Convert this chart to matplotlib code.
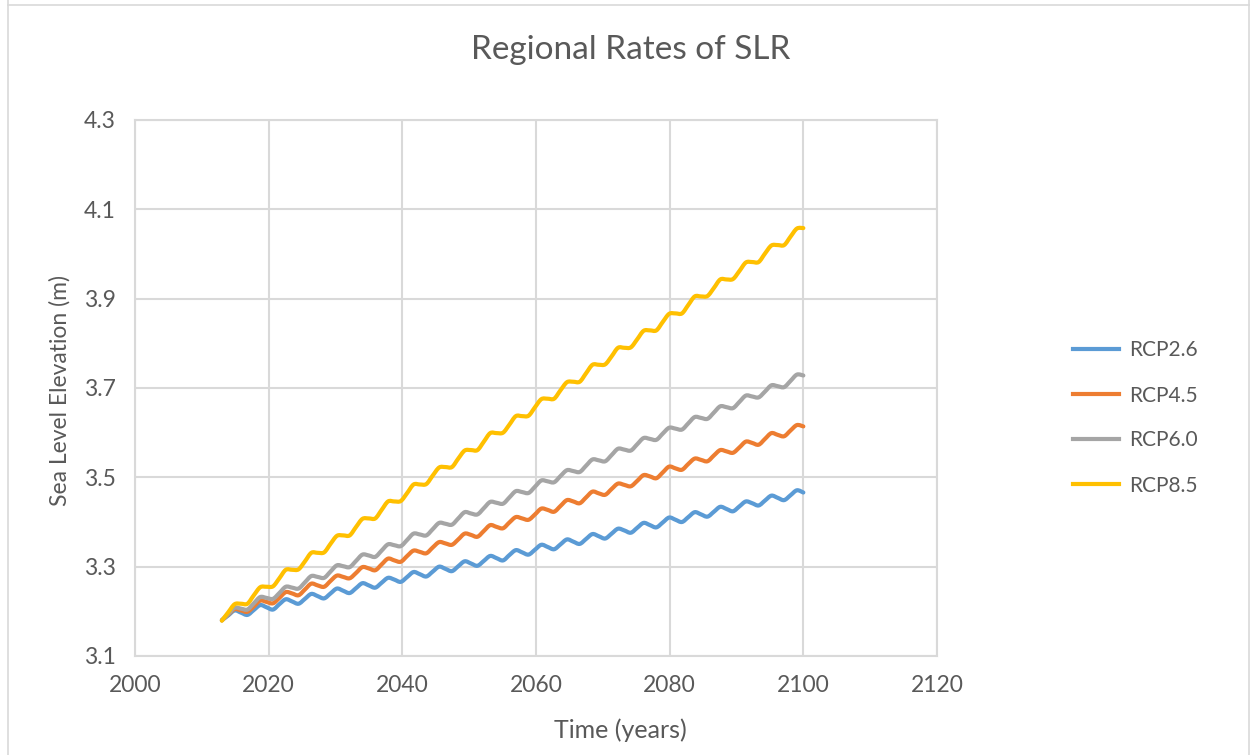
import matplotlib
matplotlib.use("Agg")
import matplotlib.pyplot as plt
import numpy as np
from matplotlib.path import Path
from matplotlib.patches import PathPatch
from matplotlib.lines import Line2D

plt.rcParams['font.family'] = ['Lato', 'DejaVu Sans']

years = [
    2013.00, 2013.96, 2014.91, 2015.87, 2016.82, 2017.78, 2018.74, 2019.69,
    2020.65, 2021.60, 2022.56, 2023.52, 2024.47, 2025.43, 2026.38, 2027.34,
    2028.30, 2029.25, 2030.21, 2031.16, 2032.12, 2033.08, 2034.03, 2034.99,
    2035.95, 2036.90, 2037.86, 2038.81, 2039.77, 2040.73, 2041.68, 2042.64,
    2043.59, 2044.55, 2045.51, 2046.46, 2047.42, 2048.37, 2049.33, 2050.29,
    2051.24, 2052.20, 2053.15, 2054.11, 2055.07, 2056.02, 2056.98, 2057.93,
    2058.89, 2059.85, 2060.80, 2061.76, 2062.71, 2063.67, 2064.63, 2065.58,
    2066.54, 2067.49, 2068.45, 2069.41, 2070.36, 2071.32, 2072.27, 2073.23,
    2074.19, 2075.14, 2076.10, 2077.05, 2078.01, 2078.97, 2079.92, 2080.88,
    2081.84, 2082.79, 2083.75, 2084.70, 2085.66, 2086.62, 2087.57, 2088.53,
    2089.48, 2090.44, 2091.40, 2092.35, 2093.31, 2094.26, 2095.22, 2096.18,
    2097.13, 2098.09, 2099.04, 2100.00,
]

rcp26 = [
    3.180, 3.191, 3.202, 3.197, 3.192, 3.203, 3.214, 3.209,
    3.204, 3.216, 3.227, 3.222, 3.217, 3.228, 3.239, 3.234,
    3.229, 3.240, 3.251, 3.246, 3.241, 3.252, 3.263, 3.258,
    3.253, 3.264, 3.275, 3.271, 3.266, 3.277, 3.288, 3.283,
    3.278, 3.289, 3.300, 3.295, 3.290, 3.301, 3.312, 3.307,
    3.302, 3.313, 3.324, 3.319, 3.314, 3.326, 3.337, 3.332,
    3.327, 3.338, 3.349, 3.344, 3.339, 3.350, 3.361, 3.356,
    3.351, 3.362, 3.373, 3.368, 3.363, 3.374, 3.385, 3.381,
    3.376, 3.387, 3.398, 3.393, 3.388, 3.399, 3.410, 3.405,
    3.400, 3.411, 3.422, 3.417, 3.412, 3.423, 3.434, 3.429,
    3.424, 3.435, 3.446, 3.442, 3.437, 3.448, 3.459, 3.454,
    3.449, 3.460, 3.471, 3.466,
]

rcp45 = [
    3.180, 3.193, 3.205, 3.202, 3.199, 3.211, 3.224, 3.221,
    3.218, 3.230, 3.243, 3.240, 3.236, 3.249, 3.262, 3.258,
    3.255, 3.268, 3.280, 3.277, 3.274, 3.286, 3.299, 3.296,
    3.292, 3.305, 3.318, 3.314, 3.311, 3.324, 3.336, 3.333,
    3.330, 3.343, 3.355, 3.352, 3.349, 3.361, 3.374, 3.371,
    3.367, 3.380, 3.393, 3.389, 3.386, 3.399, 3.411, 3.408,
    3.405, 3.417, 3.430, 3.427, 3.423, 3.436, 3.449, 3.446,
    3.442, 3.455, 3.468, 3.464, 3.461, 3.474, 3.486, 3.483,
    3.480, 3.492, 3.505, 3.502, 3.498, 3.511, 3.524, 3.520,
    3.517, 3.530, 3.542, 3.539, 3.536, 3.549, 3.561, 3.558,
    3.555, 3.567, 3.580, 3.577, 3.573, 3.586, 3.599, 3.595,
    3.592, 3.605, 3.617, 3.614,
]

rcp60 = [
    3.180, 3.194, 3.208, 3.206, 3.204, 3.218, 3.232, 3.230,
    3.228, 3.241, 3.255, 3.253, 3.251, 3.265, 3.279, 3.277,
    3.275, 3.289, 3.303, 3.301, 3.299, 3.313, 3.327, 3.325,
    3.322, 3.336, 3.350, 3.348, 3.346, 3.360, 3.374, 3.372,
    3.370, 3.384, 3.398, 3.396, 3.394, 3.408, 3.422, 3.419,
    3.417, 3.431, 3.445, 3.443, 3.441, 3.455, 3.469, 3.467,
    3.465, 3.479, 3.493, 3.491, 3.489, 3.503, 3.516, 3.514,
    3.512, 3.526, 3.540, 3.538, 3.536, 3.550, 3.564, 3.562,
    3.560, 3.574, 3.588, 3.586, 3.584, 3.598, 3.611, 3.609,
    3.607, 3.621, 3.635, 3.633, 3.631, 3.645, 3.659, 3.657,
    3.655, 3.669, 3.683, 3.681, 3.679, 3.692, 3.706, 3.704,
    3.702, 3.716, 3.730, 3.728,
]

rcp85 = [
    3.179, 3.198, 3.216, 3.217, 3.217, 3.236, 3.254, 3.255,
    3.256, 3.274, 3.293, 3.293, 3.294, 3.312, 3.331, 3.331,
    3.332, 3.351, 3.369, 3.370, 3.370, 3.389, 3.407, 3.408,
    3.408, 3.427, 3.446, 3.446, 3.447, 3.465, 3.484, 3.484,
    3.485, 3.504, 3.522, 3.523, 3.523, 3.542, 3.560, 3.561,
    3.561, 3.580, 3.599, 3.599, 3.600, 3.618, 3.637, 3.637,
    3.638, 3.657, 3.675, 3.676, 3.676, 3.695, 3.713, 3.714,
    3.714, 3.733, 3.752, 3.752, 3.753, 3.771, 3.790, 3.790,
    3.791, 3.809, 3.828, 3.829, 3.829, 3.848, 3.866, 3.867,
    3.867, 3.886, 3.905, 3.905, 3.906, 3.924, 3.943, 3.943,
    3.944, 3.962, 3.981, 3.982, 3.982, 4.001, 4.019, 4.020,
    4.020, 4.039, 4.057, 4.058,
]

series_names = ['RCP2.6', 'RCP4.5', 'RCP6.0', 'RCP8.5']
series_colors = ['#5B9BD5', '#ED7D31', '#A5A5A5', '#FFC000']
x_ticks = [2000, 2020, 2040, 2060, 2080, 2100, 2120]
y_ticks = [3.1, 3.3, 3.5, 3.7, 3.9, 4.1, 4.3]

TEXT = '#595959'
GRID = '#D9D9D9'


def smooth_path(x, y):
    # Catmull-Rom style smoothed line, like a spreadsheet "smoothed line"
    pts = np.column_stack([x, y])
    n = len(pts)
    verts = [pts[0]]
    codes = [Path.MOVETO]
    for i in range(n - 1):
        p_prev = pts[i - 1] if i > 0 else pts[i]
        p_next = pts[i + 2] if i + 2 < n else pts[i + 1]
        c1 = pts[i] + (pts[i + 1] - p_prev) / 6.0
        c2 = pts[i + 1] - (p_next - pts[i]) / 6.0
        verts += [c1, c2, pts[i + 1]]
        codes += [Path.CURVE4] * 3
    return Path(verts, codes)


fig = plt.figure(figsize=(12.53, 7.55), dpi=100)
ax = fig.add_axes([135 / 1253, 99 / 755, 802 / 1253, 536 / 755])

for vals, color in zip([rcp26, rcp45, rcp60, rcp85], series_colors):
    patch = PathPatch(smooth_path(years, vals), facecolor='none',
                      edgecolor=color, lw=3.0, capstyle='round',
                      joinstyle='round', zorder=3)
    ax.add_patch(patch)

ax.set_xlim(2000, 2120)
ax.set_ylim(3.1, 4.3)
ax.set_xticks(x_ticks)
ax.set_yticks(y_ticks)
ax.set_yticklabels([f'{v:.1f}' for v in y_ticks])
ax.grid(True, color=GRID, lw=1.5)
ax.set_axisbelow(True)
for sp in ax.spines.values():
    sp.set_color(GRID)
    sp.set_linewidth(1.5)
ax.tick_params(length=0, labelsize=16.5, colors=TEXT)
ax.tick_params(axis='x', pad=14)
ax.tick_params(axis='y', pad=14)

fig.text(620 / 1253, 1 - 730 / 755, 'Time (years)', fontsize=18,
         color=TEXT, ha='center', va='center')
fig.text(60 / 1253, 1 - 390 / 755, 'Sea Level Elevation (m)', fontsize=16.5,
         color=TEXT, ha='center', va='center', rotation=90)
fig.text(631 / 1253, 1 - 50 / 755, 'Regional Rates of SLR', fontsize=24,
         color=TEXT, ha='center', va='center')

handles = [Line2D([], [], color=c, lw=3.0) for c in series_colors]
fig.legend(handles, series_names, loc='center left',
           bbox_to_anchor=(1073 / 1253, 1 - 418 / 755), frameon=False,
           fontsize=15, handlelength=2.2, handletextpad=0.5,
           labelspacing=1.2, borderpad=0, borderaxespad=0,
           labelcolor=TEXT)

# chart area border
for xs, ys in [([8, 8], [0, 755]), ([1249, 1249], [0, 755]), ([8, 1249], [5, 5])]:
    fig.add_artist(Line2D([x / 1253 for x in xs], [1 - y / 755 for y in ys],
                          color=GRID, lw=1.2, transform=fig.transFigure))

fig.savefig('out.png', dpi=100)
